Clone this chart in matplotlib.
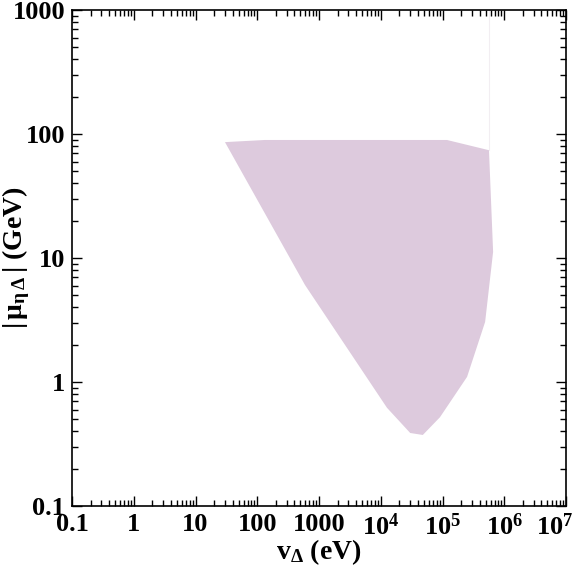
import numpy as np
import matplotlib
matplotlib.use('Agg')
import matplotlib.pyplot as plt
import matplotlib.transforms as mtransforms
from matplotlib.ticker import FixedLocator, LogLocator, NullFormatter

plt.rcParams['font.family'] = 'Liberation Serif'
plt.rcParams['font.weight'] = 'bold'
plt.rcParams['mathtext.fontset'] = 'custom'
plt.rcParams['mathtext.rm'] = 'Liberation Serif:bold'
plt.rcParams['mathtext.bf'] = 'Liberation Serif:bold'
plt.rcParams['mathtext.it'] = 'Liberation Serif:bold'
plt.rcParams['mathtext.default'] = 'bf'

# Граница разрешённой области (v_Delta в эВ, |mu| в ГэВ)
v_delta = [30, 134, 1.18e5, 5.66e5, 6.6e5, 4.9e5, 2.5e5, 9.1e4, 4.8e4, 3.0e4, 1.26e4, 593]
mu_eta = [86, 89.5, 89.5, 74, 11.2, 3.05, 1.1, 0.52, 0.374, 0.388, 0.62, 6.06]

x_ticks = [0.1, 1, 10, 100, 1000, 1e4, 1e5, 1e6, 1e7]
x_labels = ['0.1', '1', '10', '100', '1000', r'$10^4$', r'$10^5$', r'$10^6$', r'$10^7$']
y_ticks = [0.1, 1, 10, 100, 1000]
y_labels = ['0.1', '1', '10', '100', '1000']

fig = plt.figure(figsize=(5.74, 5.66), dpi=100)
ax = fig.add_axes([72 / 574, 60 / 566, 494 / 574, 496 / 566])

ax.fill(v_delta, mu_eta, color='#ddcadd', lw=0)
# тонкая вертикальная линия на правой границе
ax.plot([v_delta[3], v_delta[3]], [mu_eta[3], 1000], color='#f2eef2', lw=0.8)

ax.set_xscale('log')
ax.set_yscale('log')
ax.set_xlim(0.1, 1e7)
ax.set_ylim(0.1, 1000)

ax.xaxis.set_major_locator(FixedLocator(x_ticks))
ax.set_xticklabels(x_labels)
ax.yaxis.set_major_locator(FixedLocator(y_ticks))
ax.set_yticklabels(y_labels)
ax.xaxis.set_minor_locator(LogLocator(base=10, subs=np.arange(2, 10), numticks=20))
ax.yaxis.set_minor_locator(LogLocator(base=10, subs=np.arange(2, 10), numticks=20))
ax.xaxis.set_minor_formatter(NullFormatter())
ax.yaxis.set_minor_formatter(NullFormatter())

ax.tick_params(which='both', direction='in', top=True, right=True, width=1)
ax.tick_params(which='major', length=7, labelsize=19, pad=5)
ax.tick_params(which='minor', length=4)
for s in ax.spines.values():
    s.set_linewidth(1.2)

# последняя подпись 10^7 прижата к правому краю
last = ax.get_xticklabels()[-1]
last.set_horizontalalignment('right')
last.set_transform(last.get_transform() + mtransforms.ScaledTranslation(7 / 100, 0, fig.dpi_scale_trans))

ax.set_xlabel(r'$v_{\Delta}$ (eV)', fontsize=20, fontweight='bold')
ax.set_ylabel(r'$|\,\mu_{\eta\,\Delta}\,|$ (GeV)', fontsize=20, fontweight='bold')
ax.xaxis.set_label_coords(0.5, -0.062)
ax.yaxis.set_label_coords(-0.081, 0.5)

fig.savefig('out.png', dpi=100)
